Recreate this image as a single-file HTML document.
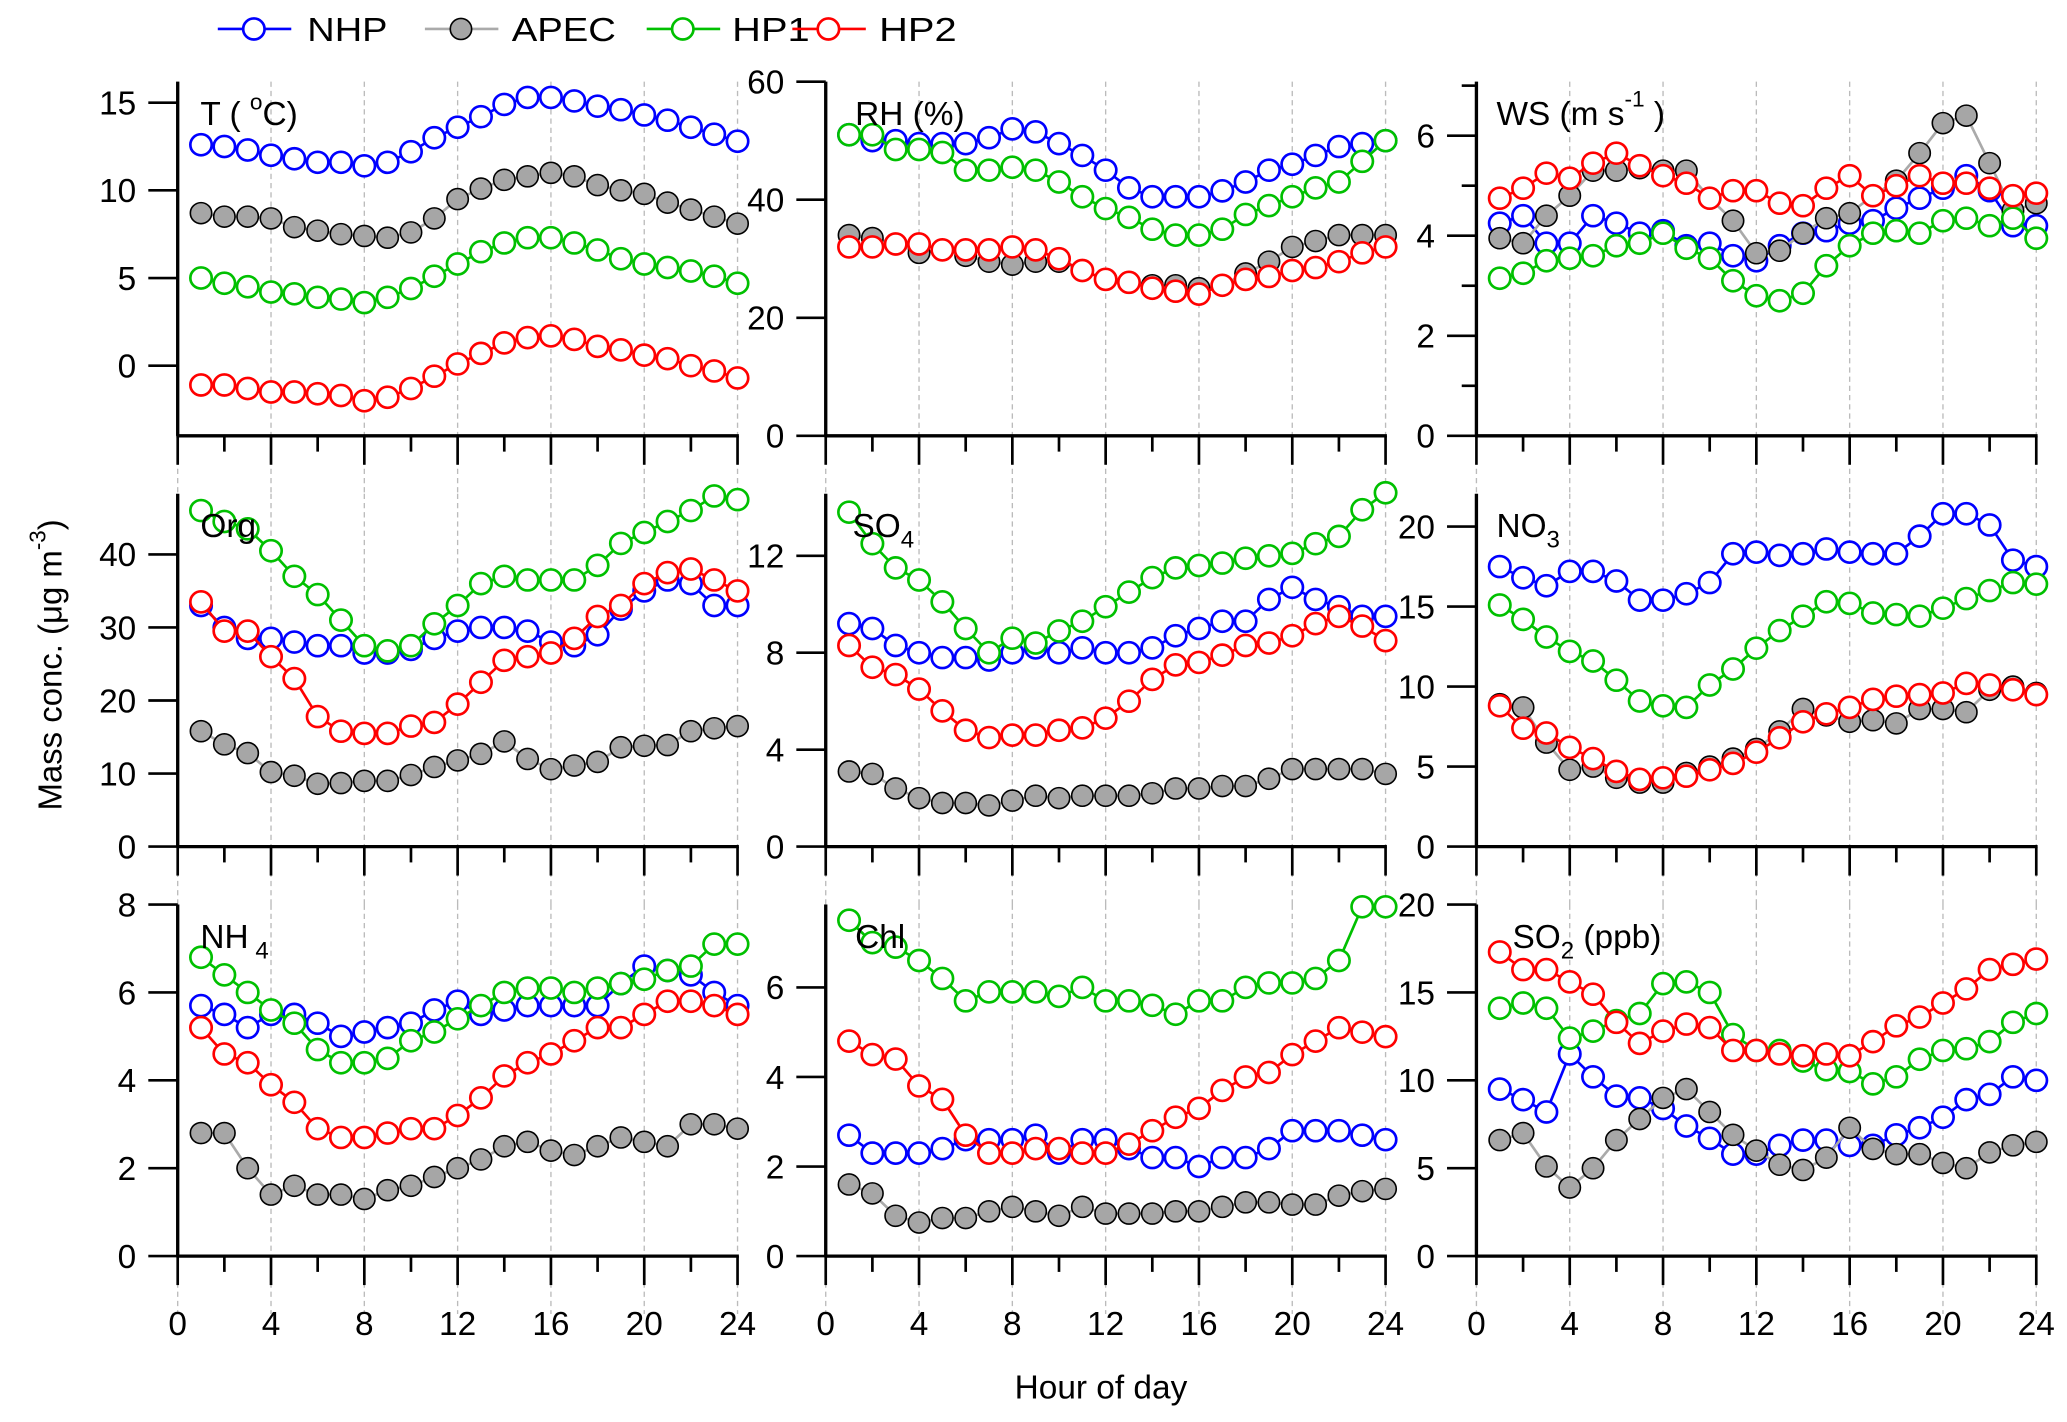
<!DOCTYPE html>
<html><head><meta charset="utf-8"><style>
html,body{margin:0;padding:0;background:#fff;}
svg{display:block;font-family:"Liberation Sans",Arial,sans-serif;}
</style></head><body>
<svg id="chart" width="2067" height="1422" viewBox="0 0 1547 1080" preserveAspectRatio="none" xmlns="http://www.w3.org/2000/svg"></svg>
<script>
const hours = [1,2,3,4,5,6,7,8,9,10,11,12,13,14,15,16,17,18,19,20,21,22,23,24];
const seriesNames = ["NHP","APEC","HP1","HP2"];
const xTicks = [0,4,8,12,16,20,24];

const T_NHP = [12.6,12.5,12.3,12.0,11.8,11.6,11.6,11.4,11.6,12.2,13.0,13.6,14.2,14.9,15.3,15.3,15.1,14.8,14.6,14.3,14.0,13.6,13.2,12.8];
const T_APEC = [8.7,8.5,8.5,8.4,7.9,7.7,7.5,7.4,7.3,7.6,8.4,9.5,10.1,10.6,10.8,11.0,10.8,10.3,10.0,9.8,9.3,8.9,8.5,8.1];
const T_HP1 = [5.0,4.7,4.5,4.2,4.1,3.9,3.8,3.6,3.9,4.4,5.1,5.8,6.5,7.0,7.3,7.3,7.0,6.6,6.1,5.8,5.6,5.4,5.1,4.7];
const T_HP2 = [-1.1,-1.1,-1.3,-1.5,-1.5,-1.6,-1.7,-2.0,-1.8,-1.3,-0.6,0.1,0.7,1.3,1.6,1.7,1.5,1.1,0.9,0.6,0.4,0.0,-0.3,-0.7];

const RH_NHP = [51,50,50,49.5,49.5,49.5,50.5,52,51.5,49.5,47.5,45,42,40.5,40.5,40.5,41.5,43,45,46,47.5,49,49.5,50];
const RH_APEC = [34,33.5,32.5,31,31.5,30.5,29.5,29,29.5,29.5,28,26.5,26,25.5,25.5,25,25.5,27.5,29.5,32,33,34,34,34];
const RH_HP1 = [51,51,48.5,48.5,48,45,45,45.5,45,43,40.5,38.5,37,35,34,34,35,37.5,39,40.5,42,43,46.5,50];
const RH_HP2 = [32,32,32.5,32.5,31.5,31.5,31.5,32,31.5,30,28,26.5,26,25,24.5,24,25.5,26.5,27,28,28.5,29.5,31,32];

const WS_NHP = [4.25,4.4,3.85,3.85,4.4,4.25,4.05,4.1,3.8,3.85,3.6,3.5,3.8,4.05,4.1,4.25,4.3,4.55,4.75,4.95,5.2,4.9,4.2,4.2];
const WS_APEC = [3.95,3.85,4.4,4.8,5.3,5.3,5.35,5.3,5.3,4.75,4.3,3.65,3.7,4.05,4.35,4.45,4.8,5.1,5.65,6.25,6.4,5.45,4.5,4.65];
const WS_HP1 = [3.15,3.25,3.5,3.55,3.6,3.8,3.85,4.05,3.75,3.55,3.1,2.8,2.7,2.85,3.4,3.8,4.05,4.1,4.05,4.3,4.35,4.2,4.35,3.95];
const WS_HP2 = [4.75,4.95,5.25,5.15,5.45,5.65,5.4,5.2,5.05,4.75,4.9,4.9,4.65,4.6,4.95,5.2,4.8,5.0,5.2,5.05,5.05,4.95,4.8,4.85];

const ORG_NHP = [33,30,28.5,28.5,28,27.5,27.5,26.5,26.5,27,28.5,29.5,30,30,29.5,28,27.5,29,32.5,35,36.5,36,33,33];
const ORG_APEC = [15.8,14,12.8,10.2,9.7,8.6,8.7,9.0,9.0,9.8,10.9,11.8,12.7,14.4,12.0,10.6,11.1,11.6,13.6,13.8,13.9,15.8,16.2,16.5];
const ORG_HP1 = [46,44.5,43.5,40.5,37,34.5,31,27.5,26.8,27.5,30.5,33,36,37,36.5,36.5,36.5,38.5,41.5,43,44.5,46,48,47.5];
const ORG_HP2 = [33.5,29.5,29.5,26,23,17.8,15.8,15.5,15.5,16.5,17,19.5,22.5,25.5,26,26.5,28.5,31.5,33,36,37.5,38,36.5,35];

const SO4_NHP = [9.2,9.0,8.3,8.0,7.8,7.8,7.7,8.0,8.2,8.0,8.2,8.0,8.0,8.2,8.7,9.0,9.3,9.3,10.2,10.7,10.2,9.9,9.5,9.5];
const SO4_APEC = [3.1,3.0,2.4,2.0,1.8,1.8,1.7,1.9,2.1,2.0,2.1,2.1,2.1,2.2,2.4,2.4,2.5,2.5,2.8,3.2,3.2,3.2,3.2,3.0];
const SO4_HP1 = [13.8,12.5,11.5,11.0,10.1,9.0,8.0,8.6,8.4,8.9,9.3,9.9,10.5,11.1,11.5,11.6,11.7,11.9,12.0,12.1,12.5,12.8,13.9,14.6];
const SO4_HP2 = [8.3,7.4,7.1,6.5,5.6,4.8,4.5,4.6,4.6,4.8,4.9,5.3,6.0,6.9,7.5,7.6,7.9,8.3,8.4,8.7,9.2,9.5,9.1,8.5];

const NO3_NHP = [17.5,16.8,16.3,17.2,17.2,16.6,15.4,15.4,15.8,16.5,18.3,18.4,18.2,18.3,18.6,18.4,18.3,18.3,19.4,20.8,20.8,20.1,17.9,17.5];
const NO3_APEC = [8.9,8.7,6.5,4.8,5.0,4.3,4.0,4.0,4.6,5.0,5.5,6.1,7.2,8.6,8.2,7.8,7.9,7.7,8.6,8.6,8.4,9.8,10.0,9.6];
const NO3_HP1 = [15.1,14.2,13.1,12.2,11.6,10.4,9.1,8.8,8.7,10.1,11.1,12.4,13.5,14.4,15.3,15.2,14.6,14.5,14.4,14.9,15.5,16.0,16.5,16.4];
const NO3_HP2 = [8.8,7.4,7.1,6.2,5.5,4.7,4.2,4.3,4.4,4.8,5.2,5.9,6.8,7.8,8.3,8.7,9.2,9.4,9.5,9.6,10.2,10.1,9.8,9.5];

const NH4_NHP = [5.7,5.5,5.2,5.5,5.5,5.3,5.0,5.1,5.2,5.3,5.6,5.8,5.5,5.6,5.7,5.7,5.7,5.7,6.2,6.6,6.5,6.4,6.0,5.7];
const NH4_APEC = [2.8,2.8,2.0,1.4,1.6,1.4,1.4,1.3,1.5,1.6,1.8,2.0,2.2,2.5,2.6,2.4,2.3,2.5,2.7,2.6,2.5,3.0,3.0,2.9];
const NH4_HP1 = [6.8,6.4,6.0,5.6,5.3,4.7,4.4,4.4,4.5,4.9,5.1,5.4,5.7,6.0,6.1,6.1,6.0,6.1,6.2,6.3,6.5,6.6,7.1,7.1];
const NH4_HP2 = [5.2,4.6,4.4,3.9,3.5,2.9,2.7,2.7,2.8,2.9,2.9,3.2,3.6,4.1,4.4,4.6,4.9,5.2,5.2,5.5,5.8,5.8,5.7,5.5];

const CHL_NHP = [2.7,2.3,2.3,2.3,2.4,2.6,2.6,2.6,2.7,2.3,2.6,2.6,2.4,2.2,2.2,2.0,2.2,2.2,2.4,2.8,2.8,2.8,2.7,2.6];
const CHL_APEC = [1.6,1.4,0.9,0.75,0.85,0.85,1.0,1.1,1.0,0.9,1.1,0.95,0.95,0.95,1.0,1.0,1.1,1.2,1.2,1.15,1.15,1.35,1.45,1.5];
const CHL_HP1 = [7.5,7.0,6.9,6.6,6.2,5.7,5.9,5.9,5.9,5.8,6.0,5.7,5.7,5.6,5.4,5.7,5.7,6.0,6.1,6.1,6.2,6.6,7.8,7.8];
const CHL_HP2 = [4.8,4.5,4.4,3.8,3.5,2.7,2.3,2.3,2.4,2.4,2.3,2.3,2.5,2.8,3.1,3.3,3.7,4.0,4.1,4.5,4.8,5.1,5.0,4.9];

const SO2_NHP = [9.5,8.9,8.2,11.5,10.2,9.1,9.0,8.4,7.4,6.7,5.8,5.8,6.3,6.6,6.6,6.3,6.3,6.9,7.3,7.9,8.9,9.2,10.2,10.0];
const SO2_APEC = [6.6,7.0,5.1,3.9,5.0,6.6,7.8,9.0,9.5,8.2,6.9,6.0,5.2,4.9,5.6,7.3,6.1,5.8,5.8,5.3,5.0,5.9,6.3,6.5];
const SO2_HP1 = [14.1,14.4,14.1,12.4,12.8,13.4,13.8,15.5,15.6,15.0,12.6,11.7,11.7,11.1,10.6,10.5,9.8,10.2,11.2,11.7,11.8,12.2,13.3,13.8];
const SO2_HP2 = [17.3,16.3,16.3,15.6,14.9,13.3,12.1,12.8,13.2,13.0,11.7,11.7,11.5,11.4,11.5,11.4,12.2,13.1,13.6,14.4,15.2,16.3,16.6,16.9];

const T_ticks = [0,5,10,15];
const RH_ticks = [0,20,40,60];
const WS_ticks = [0,2,4,6];
const ORG_ticks = [0,10,20,30,40];
const SO4_ticks = [0,4,8,12];
const NO3_ticks = [0,5,10,15,20];
const NH4_ticks = [0,2,4,6,8];
const CHL_ticks = [0,2,4,6];
const SO2_ticks = [0,5,10,15,20];

const NS = "http://www.w3.org/2000/svg";
const svg = document.getElementById('chart');
function mk(tag, attrs, parent){
  const e = document.createElementNS(NS, tag);
  for (const k in attrs) e.setAttribute(k, attrs[k]);
  (parent||svg).appendChild(e); return e;
}
const colors = {NHP:{stroke:"#0000ff",fill:"#fff",line:"#0000ff"},APEC:{stroke:"#000",fill:"#a6a6a6",line:"#aaaaaa"},HP1:{stroke:"#00c000",fill:"#fff",line:"#00c000"},HP2:{stroke:"#ff0000",fill:"#fff",line:"#ff0000"}};

const cols = [133,618,1105];
const colW = 419;
const rows = [{top:62,bot:331},{top:375,bot:643},{top:687,bot:954}];

const panels = [
 {name:"t",col:0,row:0,ymin:-4,ymax:16.2,ticks:T_ticks,minor:[],label:'T ( <tspan dy="-12" font-size="17">o</tspan><tspan dy="12">C)</tspan>',lx:150,data:[T_NHP,T_APEC,T_HP1,T_HP2]},
 {name:"rh",col:1,row:0,ymin:0,ymax:60,ticks:RH_ticks,minor:[],label:'RH (%)',lx:640,data:[RH_NHP,RH_APEC,RH_HP1,RH_HP2]},
 {name:"ws",col:2,row:0,ymin:0,ymax:7.08,ticks:WS_ticks,minor:[1,3,5,7],label:'WS (m s<tspan dy="-14" font-size="17">-1</tspan><tspan dy="14"> )</tspan>',lx:1120,data:[WS_NHP,WS_APEC,WS_HP1,WS_HP2]},
 {name:"org",col:0,row:1,ymin:0,ymax:48.3,ticks:ORG_ticks,minor:[],label:'Org',lx:150,data:[ORG_NHP,ORG_APEC,ORG_HP1,ORG_HP2]},
 {name:"so4",col:1,row:1,ymin:0,ymax:14.56,ticks:SO4_ticks,minor:[],label:'SO<tspan dy="8" font-size="18">4</tspan>',lx:638,data:[SO4_NHP,SO4_APEC,SO4_HP1,SO4_HP2]},
 {name:"no3",col:2,row:1,ymin:0,ymax:22.05,ticks:NO3_ticks,minor:[],label:'NO<tspan dy="8" font-size="18">3</tspan>',lx:1120,data:[NO3_NHP,NO3_APEC,NO3_HP1,NO3_HP2]},
 {name:"nh4",col:0,row:2,ymin:0,ymax:8,ticks:NH4_ticks,minor:[],label:'NH<tspan dy="8" font-size="18"> 4</tspan>',lx:150,data:[NH4_NHP,NH4_APEC,NH4_HP1,NH4_HP2]},
 {name:"chl",col:1,row:2,ymin:0,ymax:7.85,ticks:CHL_ticks,minor:[],label:'Chl',lx:640,data:[CHL_NHP,CHL_APEC,CHL_HP1,CHL_HP2]},
 {name:"so2",col:2,row:2,ymin:0,ymax:20,ticks:SO2_ticks,minor:[],label:'SO<tspan dy="8" font-size="18">2</tspan><tspan dy="-8"> (ppb)</tspan>',lx:1132,data:[SO2_NHP,SO2_APEC,SO2_HP1,SO2_HP2]}
];

panels.forEach(p=>{
  const x0 = cols[p.col], r = rows[p.row];
  const xs = h => x0 + h/24*colW;
  const ys = v => r.bot - (v-p.ymin)/(p.ymax-p.ymin)*(r.bot-r.top);
  const g = mk('g',{});
  
  
  xTicks.forEach(t=>{
    const gl = mk('line',{x1:xs(t),x2:xs(t),y1:r.top,y2:r.bot+44,stroke:"#bbb","stroke-width":1,"stroke-dasharray":"4,3"},g);
    
    
  });
  const ya = mk('line',{x1:x0,x2:x0,y1:r.top,y2:r.bot,stroke:"#000","stroke-width":2.5},g);
  
  
  const xa = mk('line',{x1:x0-1,x2:x0+colW+1,y1:r.bot,y2:r.bot,stroke:"#000","stroke-width":2.5},g);
  
  
  for(let h=0;h<=24;h+=2){
    const len = h%4===0?22:12;
    mk('line',{x1:xs(h),x2:xs(h),y1:r.bot,y2:r.bot+len,stroke:"#000","stroke-width":2},g);
  }
  p.ticks.forEach(t=>{
    mk('line',{x1:x0-22,x2:x0,y1:ys(t),y2:ys(t),stroke:"#000","stroke-width":2},g);
    const tl = mk('text',{x:x0-31,y:ys(t)+9,"text-anchor":"end","font-size":25},g);
    tl.textContent = t;
    
    
  });
  p.minor.forEach(t=>{
    mk('line',{x1:x0-11,x2:x0,y1:ys(t),y2:ys(t),stroke:"#000","stroke-width":2},g);
  });
  if(p.row===2){
    xTicks.forEach(t=>{
      const xl = mk('text',{x:xs(t),y:r.bot+60,"text-anchor":"middle","font-size":25},g);
      xl.textContent = t;
      
      
    });
  }
  p.data.forEach((arr,si)=>{
    const c = colors[seriesNames[si]];
    const sg = mk('g',{},g);
    
    
    const pts = arr.map((v,i)=>xs(hours[i])+','+ys(v)).join(' ');
    mk('polyline',{points:pts,fill:"none",stroke:c.line,"stroke-width":2},sg);
    arr.forEach((v,i)=>{
      const m = mk('circle',{cx:xs(hours[i]),cy:ys(v),r:8,fill:c.fill,stroke:c.stroke,"stroke-width":seriesNames[si]==="APEC"?1.2:2},sg);
      
      
    });
  });
  const lab = mk('text',{x:p.lx,y:r.top+33,"font-size":25},g);
  lab.innerHTML = p.label;
  
  
});

const legX = [163,318,484,593];
const legTX = [230,383,548,658];
const legLen = [60,78,58,58];
seriesNames.forEach((n,i)=>{
  const c = colors[n];
  const lg = mk('g',{});
  
  
  mk('line',{x1:legX[i],x2:legX[i]+55,y1:22,y2:22,stroke:c.line,"stroke-width":2},lg);
  mk('circle',{cx:legX[i]+27,cy:22,r:8,fill:c.fill,stroke:c.stroke,"stroke-width":n==="APEC"?1.2:2},lg);
  const t = mk('text',{x:legTX[i],y:31,"font-size":25,textLength:legLen[i],lengthAdjust:"spacingAndGlyphs"},lg);
  t.textContent = n;
});

const yt = mk('text',{x:0,y:0,"font-size":25,"text-anchor":"middle",transform:"translate(46,505) rotate(-90)"});
yt.innerHTML = 'Mass conc.  (μg m<tspan dy="-12" font-size="17">-3</tspan><tspan dy="12">)</tspan>';


const xt = mk('text',{x:824,y:1062,"font-size":25,"text-anchor":"middle"});
xt.textContent = 'Hour of day';


</script>
</body></html>
